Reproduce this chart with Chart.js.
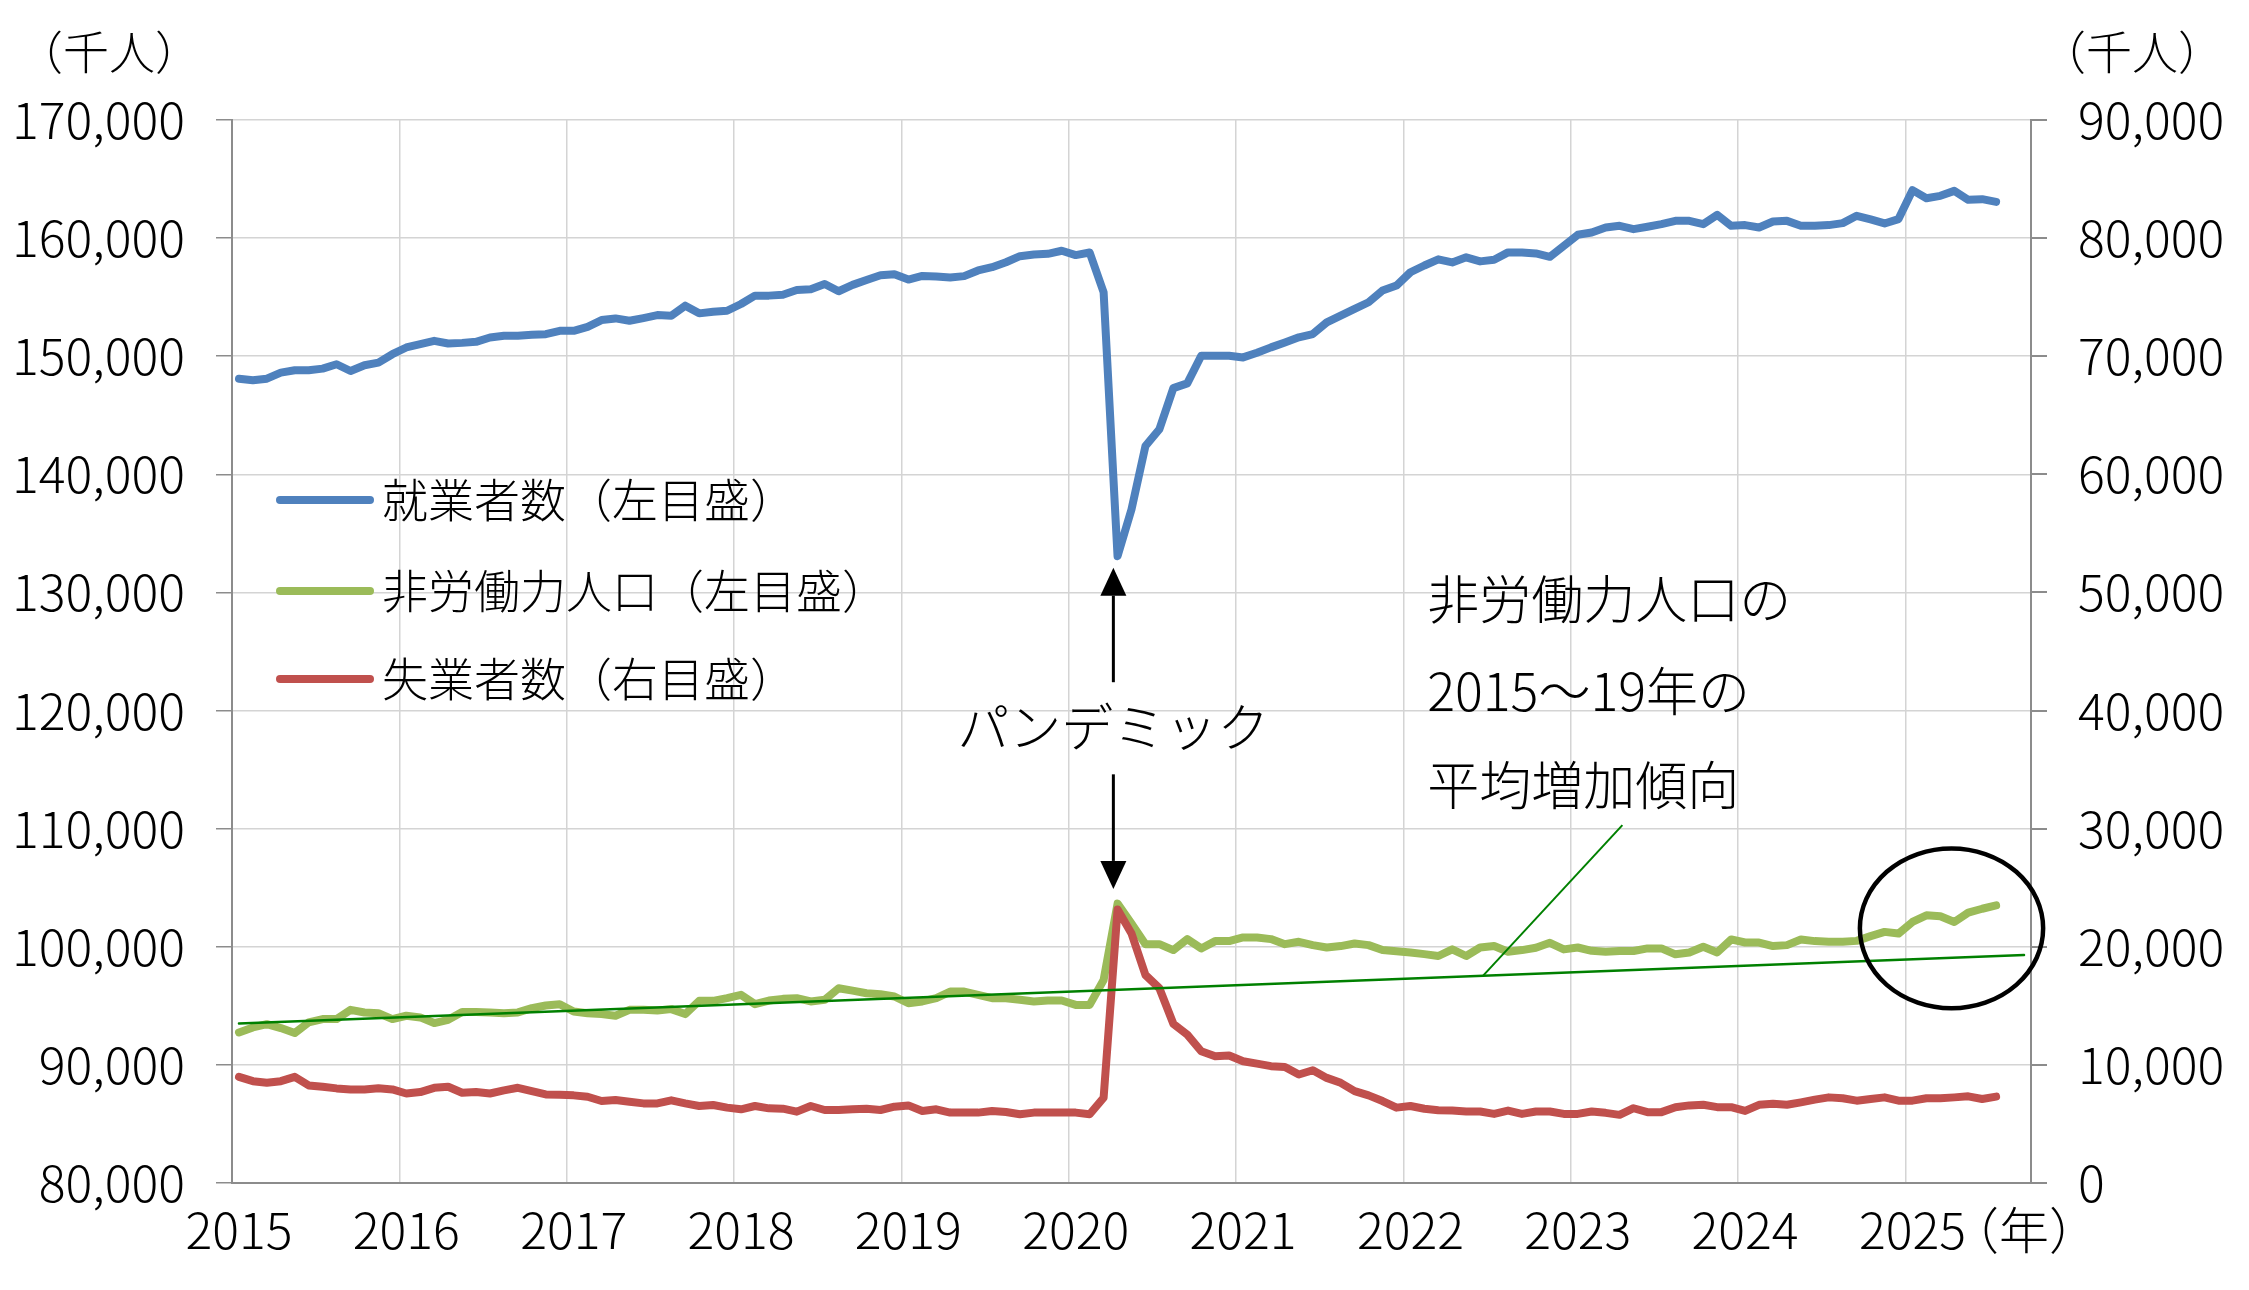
<!DOCTYPE html>
<html lang="ja">
<head>
<meta charset="utf-8">
<title>就業者数・非労働力人口・失業者数</title>
<script src="https://cdn.jsdelivr.net/npm/chart.js@4.4.1/dist/chart.umd.min.js"></script>
<style>
  html, body { margin: 0; padding: 0; background: #fff; }
  #wrap { width: 2249px; height: 1290px; }
</style>
</head>
<body>
<div id="wrap"><canvas id="laborChart" width="2249" height="1290"></canvas></div>
<script>
// axis runs Jan 2015 - Sep 2025, data ends Jul 2025
const years = ['2015','2016','2017','2018','2019','2020','2021','2022','2023','2024','2025'];
const axisMonths = 129;
const yearUnit = '（年）';

// 就業者数（千人, 左目盛）
const employed = [
  148100,147960,148100,148610,148810,148810,148950,149320,148750,149240,149460,150170,
  150740,151020,151300,151080,151130,151220,151590,151730,151730,151810,151870,152150,
  152150,152490,153060,153200,153000,153230,153480,153430,154280,153630,153770,153850,
  154420,155130,155130,155210,155610,155670,156120,155500,156040,156460,156860,156940,
  156490,156800,156750,156660,156780,157260,157540,157960,158470,158610,158670,158930,
  158560,158780,155420,133070,137030,142400,143820,147300,147700,150040,150040,150040,
  149900,150300,150750,151170,151600,151880,152870,153440,154000,154570,155560,155980,
  157110,157680,158200,157940,158370,158030,158170,158790,158790,158700,158420,159350,
  160280,160480,160900,161040,160760,160960,161180,161460,161460,161180,161970,161040,
  161100,160900,161410,161460,161040,161040,161100,161270,161890,161580,161240,161610,
  164060,163380,163580,164000,163240,163300,163070
];

// 非労働力人口（千人, 左目盛）
const notInLaborForce = [
  92750,93170,93450,93120,92700,93600,93880,93880,94660,94440,94380,93880,
  94160,94020,93540,93820,94470,94470,94440,94380,94440,94800,95030,95140,
  94520,94380,94300,94160,94660,94660,94610,94720,94300,95420,95420,95650,
  95930,95140,95450,95590,95650,95370,95510,96490,96290,96070,95980,95790,
  95220,95370,95650,96210,96210,95930,95650,95650,95510,95370,95450,95450,
  95080,95080,97190,103650,101970,100220,100220,99720,100650,99860,100480,100480,
  100790,100790,100650,100220,100420,100140,99940,100060,100280,100140,99720,99630,
  99520,99380,99220,99780,99220,99940,100060,99580,99720,99920,100340,99780,
  99940,99660,99580,99640,99640,99860,99860,99360,99520,100000,99520,100620,
  100360,100360,100060,100140,100620,100480,100420,100420,100500,100900,101260,101120,
  102100,102660,102580,102100,102890,103220,103500
];

// 失業者数（千人, 右目盛）
const unemployed = [
  8990,8620,8480,8620,8990,8260,8150,8010,7920,7920,8030,7920,
  7580,7700,8060,8150,7640,7700,7580,7840,8060,7780,7500,7470,
  7420,7300,6940,7020,6880,6740,6740,7000,6740,6520,6600,6380,
  6240,6520,6320,6290,6040,6520,6180,6180,6240,6290,6180,6460,
  6570,6100,6240,5960,5960,5960,6100,6010,5820,5960,5960,5960,
  5960,5820,7220,23150,21120,17610,16490,13480,12560,11150,10730,10790,
  10310,10110,9890,9830,9190,9550,8900,8480,7780,7420,6940,6380,
  6520,6290,6160,6130,6050,6050,5850,6130,5850,6050,6050,5850,
  5850,6050,5940,5770,6330,6000,6000,6420,6570,6620,6420,6420,
  6100,6620,6710,6620,6830,7060,7250,7170,6970,7110,7250,6970,
  6970,7170,7170,7250,7340,7110,7310
];

// 2015〜19年の平均増加傾向（直線の両端, 左目盛）
const trendStart = 93500;
const trendEnd = 99300;

const seriesNames = ['就業者数（左目盛）', '非労働力人口（左目盛）', '失業者数（右目盛）'];
const seriesColors = ['#4F81BD', '#9BBB59', '#C0504D'];

const monthLabels = [];
years.forEach(y => {
  for (let m = 1; m <= 12; m++) {
    if (monthLabels.length < axisMonths) monthLabels.push(y + '-' + String(m).padStart(2, '0'));
  }
});
const trendData = monthLabels.map((_, i) => i === 0 ? trendStart : (i === monthLabels.length - 1 ? trendEnd : null));

const FONT = '"Noto Sans CJK JP", "Noto Sans CJK SC", "Noto Sans", sans-serif';
Chart.defaults.font.family = FONT;
Chart.defaults.font.weight = 300;
Chart.defaults.color = '#000';

function arrow(ctx, x, yFrom, yTo) {
  const dir = yTo < yFrom ? -1 : 1;
  const head = 28, half = 13;
  ctx.beginPath();
  ctx.moveTo(x, yFrom);
  ctx.lineTo(x, yTo - dir * head);
  ctx.stroke();
  ctx.beginPath();
  ctx.moveTo(x, yTo);
  ctx.lineTo(x - half, yTo - dir * head);
  ctx.lineTo(x + half, yTo - dir * head);
  ctx.closePath();
  ctx.fill();
}

// notes drawn on top, placed in data units
const notes = {
  pandemicAt: 62.7,
  arrowUp: [122400, 132100],
  arrowDown: [114600, 104900],
  pandemicY: 118600,
  textAt: 85.2,
  textY: [129400, 121600, 113700],
  lines: ['非労働力人口の', '2015～19年の', '平均増加傾向'],
  leaderFrom: 89.2,
  leaderTo: [99.2, 110300],
  ring: { x: 122.8, y: 101560, rx: 6.57, ry: 6770 }
};

const overlay = {
  id: 'overlay',
  afterDatasetsDraw(chart) {
    const { ctx } = chart;
    const x = chart.scales.x, y = chart.scales.y;
    ctx.save();

    // pandemic arrows + label
    ctx.strokeStyle = '#000';
    ctx.fillStyle = '#000';
    ctx.lineWidth = 3;
    const px = x.getPixelForValue(notes.pandemicAt);
    arrow(ctx, px, y.getPixelForValue(notes.arrowUp[0]), y.getPixelForValue(notes.arrowUp[1]));
    arrow(ctx, px, y.getPixelForValue(notes.arrowDown[0]), y.getPixelForValue(notes.arrowDown[1]));
    ctx.font = '300 52px ' + FONT;
    ctx.textAlign = 'center';
    ctx.textBaseline = 'middle';
    ctx.fillText('パンデミック', px, y.getPixelForValue(notes.pandemicY));

    // trend note
    ctx.textAlign = 'left';
    notes.lines.forEach((t, i) => {
      ctx.fillText(t, x.getPixelForValue(notes.textAt), y.getPixelForValue(notes.textY[i]));
    });
    const trendAt = trendStart + (trendEnd - trendStart) * notes.leaderFrom / (monthLabels.length - 1);
    ctx.strokeStyle = '#008000';
    ctx.lineWidth = 2;
    ctx.beginPath();
    ctx.moveTo(x.getPixelForValue(notes.leaderFrom), y.getPixelForValue(trendAt));
    ctx.lineTo(x.getPixelForValue(notes.leaderTo[0]), y.getPixelForValue(notes.leaderTo[1]));
    ctx.stroke();

    // ring round the recent rise
    const r = notes.ring;
    const cx = x.getPixelForValue(r.x), cy = y.getPixelForValue(r.y);
    ctx.strokeStyle = '#000';
    ctx.lineWidth = 4.5;
    ctx.beginPath();
    ctx.ellipse(cx, cy, x.getPixelForValue(r.x + r.rx) - cx, cy - y.getPixelForValue(r.y + r.ry), 0, 0, Math.PI * 2);
    ctx.stroke();

    // legend inside the plot
    const legendY = [500, 591, 679];
    ctx.font = '300 46px ' + FONT;
    ctx.textBaseline = 'middle';
    seriesNames.forEach((name, i) => {
      ctx.strokeStyle = seriesColors[i];
      ctx.lineWidth = 8;
      ctx.lineCap = 'round';
      ctx.beginPath();
      ctx.moveTo(280, legendY[i]);
      ctx.lineTo(370, legendY[i]);
      ctx.stroke();
      ctx.fillStyle = '#000';
      ctx.fillText(name, 382, legendY[i]);
    });

    // units
    ctx.font = '300 46px ' + FONT;
    ctx.textAlign = 'center';
    ctx.fillText('（千人）', 109, 52);
    ctx.fillText('（千人）', 2132, 52);
    ctx.restore();
  }
};

new Chart(document.getElementById('laborChart'), {
  type: 'line',
  data: {
    labels: monthLabels,
    datasets: [
      { label: '平均増加傾向', data: trendData, borderColor: '#008000', borderWidth: 2.5, spanGaps: true, yAxisID: 'y', order: 0 },
      { label: seriesNames[2], data: unemployed, borderColor: seriesColors[2], yAxisID: 'y2', order: 1 },
      { label: seriesNames[0], data: employed, borderColor: seriesColors[0], yAxisID: 'y', order: 2 },
      { label: seriesNames[1], data: notInLaborForce, borderColor: seriesColors[1], yAxisID: 'y', order: 3 }
    ]
  },
  options: {
    responsive: false,
    animation: false,
    devicePixelRatio: 1,
    layout: { padding: { top: 120, left: 0, right: 0, bottom: 0 } },
    elements: {
      point: { radius: 0 },
      line: { borderWidth: 8, tension: 0, borderJoinStyle: 'round', borderCapStyle: 'round', fill: false }
    },
    plugins: { legend: { display: false }, tooltip: { enabled: false } },
    scales: {
      x: {
        offset: true,
        grid: {
          offset: true,
          drawTicks: false,
          lineWidth: 1.5,
          color: c => (c.index % 12 === 0 && c.index < monthLabels.length) ? '#d4d4d4' : 'rgba(0,0,0,0)'
        },
        border: { color: '#8c8c8c', width: 2 },
        ticks: {
          autoSkip: false,
          maxRotation: 0,
          padding: 17,
          font: { size: 50, weight: 300 },
          callback: (v, i) => {
            if (i === monthLabels.length - 1) return yearUnit;
            const lab = monthLabels[i];
            return lab.endsWith('-01') ? lab.slice(0, 4) : '';
          }
        },
        afterFit: s => { s.height = 107; }
      },
      y: {
        position: 'left',
        min: 80000,
        max: 170000,
        grid: { color: '#d4d4d4', lineWidth: 1.5, tickColor: '#8c8c8c', tickLength: 16 },
        border: { color: '#8c8c8c', width: 2 },
        ticks: { stepSize: 10000, padding: 31, font: { size: 50, weight: 300 }, callback: v => v.toLocaleString('en-US') },
        afterFit: s => { s.width = 232; }
      },
      y2: {
        position: 'right',
        min: 0,
        max: 90000,
        grid: { drawOnChartArea: false, tickColor: '#8c8c8c', tickLength: 16, lineWidth: 2 },
        border: { color: '#8c8c8c', width: 2 },
        ticks: { stepSize: 10000, padding: 31, font: { size: 50, weight: 300 }, callback: v => v.toLocaleString('en-US') },
        afterFit: s => { s.width = 218; }
      }
    }
  },
  plugins: [overlay]
});
</script>
</body>
</html>
